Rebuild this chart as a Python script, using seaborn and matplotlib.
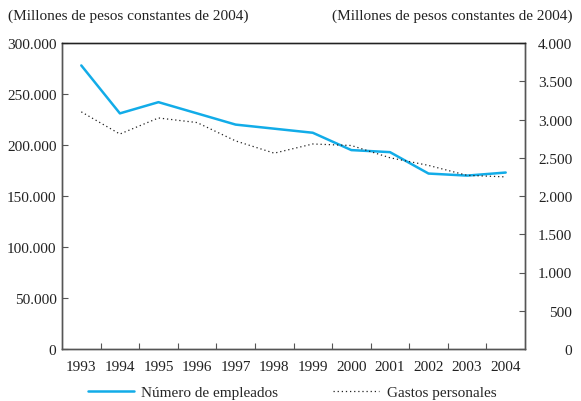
import matplotlib
matplotlib.use("Agg")
import matplotlib.pyplot as plt
import matplotlib.ticker as mticker
import pandas as pd
import seaborn as sns

years = list(range(1993, 2005))
empleados = [278000, 231000, 242000, 231000, 220000, 216000, 212000, 195000, 193000, 172000, 170000, 173000]
gastos = [3100, 2810, 3020, 2960, 2720, 2560, 2680, 2660, 2500, 2400, 2270, 2250]
left_ticks = [0, 50000, 100000, 150000, 200000, 250000, 300000]
right_ticks = [0, 500, 1000, 1500, 2000, 2500, 3000, 3500, 4000]
header = "(Millones de pesos constantes de 2004)"

BLUE = "#12ace8"
SPINE = "#555555"

sns.set_theme(style="white")
plt.rcParams["font.family"] = ["Liberation Serif", "DejaVu Serif"]
plt.rcParams["font.size"] = 11


def dotfmt(v, _pos=None):
    return f"{int(v):,}".replace(",", ".")


df = pd.DataFrame({"year": years, "empleados": empleados, "gastos": gastos})

fig = plt.figure(figsize=(5.81, 4.02), dpi=100)
ax = fig.add_axes([62 / 581, 1 - 350 / 402, 463 / 581, 306 / 402])
ax2 = ax.twinx()

sns.lineplot(data=df, x="year", y="empleados", ax=ax, color=BLUE, linewidth=1.8,
             label="Número de empleados", legend=False)
sns.lineplot(data=df, x="year", y="gastos", ax=ax2, color="#222222", linewidth=0.9,
             linestyle=(0, (1, 2.3)), label="Gastos personales", legend=False)

ax.set_xlim(1992.5, 2004.5)
ax.set_ylim(0, 300000)
ax2.set_ylim(0, 4000)
ax.set_xlabel("")
ax.set_ylabel("")
ax2.set_ylabel("")

ax.set_yticks(left_ticks)
ax.yaxis.set_major_formatter(mticker.FuncFormatter(dotfmt))
ax2.set_yticks(right_ticks)
ax2.yaxis.set_major_formatter(mticker.FuncFormatter(dotfmt))

ax.set_xticks(years)
ax.set_xticklabels([str(y) for y in years])
ax.set_xticks([y + 0.5 for y in years[:-1]], minor=True)
ax.tick_params(axis="x", which="major", length=0, pad=8, labelsize=11, colors="#222222")
ax.tick_params(axis="x", which="minor", direction="in", length=4, width=0.8, color=SPINE, bottom=True)
ax.tick_params(axis="y", direction="in", length=4, width=0.8, color=SPINE, labelsize=11,
               labelcolor="#222222", pad=4)
ax2.tick_params(axis="y", direction="in", length=4, width=0.8, color=SPINE, labelsize=11,
                labelcolor="#222222", pad=34)
for lab in ax2.get_yticklabels():
    lab.set_horizontalalignment("right")

for a in (ax, ax2):
    for s in a.spines.values():
        s.set_color(SPINE)
        s.set_linewidth(1.0)
ax2.spines["top"].set_color("#222222")
ax.grid(False)
ax2.grid(False)

fig.text(8 / 581, 1 - 16 / 402, header, ha="left", va="center", fontsize=11, color="#222222")
fig.text(572 / 581, 1 - 16 / 402, header, ha="right", va="center", fontsize=11, color="#222222")

h1, l1 = ax.get_legend_handles_labels()
h2, l2 = ax2.get_legend_handles_labels()
fig.legend(h1 + h2, l1 + l2, loc="center", bbox_to_anchor=(0.503, 1 - 393 / 402), ncol=2,
           frameon=False, handlelength=3.0, columnspacing=3.6, fontsize=11, handletextpad=0.5)

fig.savefig("out.png", dpi=100)
